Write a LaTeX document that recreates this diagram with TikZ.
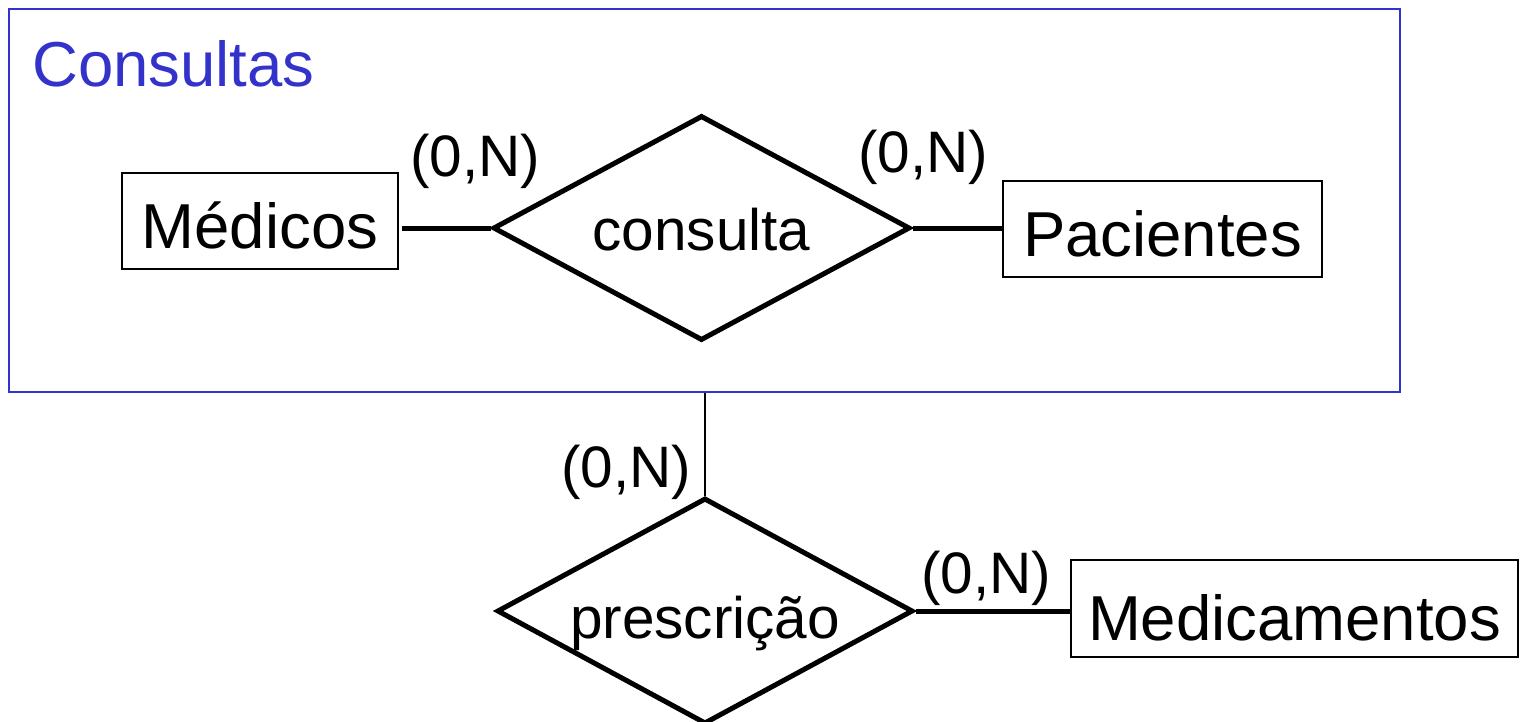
\documentclass[tikz,border=0pt]{standalone}
\usepackage{fontspec}
\setmainfont{Liberation Sans}
\usetikzlibrary{shapes.geometric}
\definecolor{framblue}{RGB}{51,51,204}
\tikzset{
  entity/.style={draw=black, line width=1.8pt, rectangle, inner sep=0pt,
    font=\fontsize{63.5}{70}\selectfont, text depth=0pt},
  relation/.style={draw=black, line width=5pt, diamond, inner sep=0pt,
    shape aspect=1.85, font=\fontsize{58.5}{64}\selectfont, text depth=0pt,
    minimum width=417pt, minimum height=225pt},
  card/.style={font=\fontsize{58.5}{64}\selectfont, anchor=base, inner sep=0pt},
  conn/.style={line width=5pt},
  thinconn/.style={line width=1.8pt},
}
\begin{document}
\begin{tikzpicture}[x=1pt,y=-1pt]
\useasboundingbox (0,0) rectangle (1520,721);
\fill[white] (0,0) rectangle (1520,721);
% aggregation frame
\node[draw=framblue, line width=2.2pt, rectangle, inner sep=0pt,
  minimum width=1391pt, minimum height=383pt] (frame) at (704.5,200.5) {};
\node[font=\fontsize{63.5}{70}\selectfont, text=framblue, anchor=base west, inner sep=0pt]
  (title) at (32,86) {Consultas};
% entities
\node[entity, minimum width=276pt, minimum height=96pt, text height=54pt] (med) at (260,221) {Médicos};
\node[entity, minimum width=319pt, minimum height=96pt, text height=54pt] (pac) at (1162.5,229) {Pacientes};
\node[entity, minimum width=447pt, minimum height=97pt, text height=64pt] (medi) at (1294.5,608.5) {Medicamentos};
% relationships
\node[relation, text height=44pt] (cons) at (701.5,228) {consulta};
\node[relation, text height=54pt, minimum width=416pt, minimum height=226pt] (presc) at (705,611) {prescrição};
% connectors
\draw[conn] ([xshift=3pt]cons.west -| med.east) -- (cons.west);
\draw[conn] (cons.east) -- (cons.east -| pac.west);
\draw[thinconn] (presc.north |- frame.south) -- (presc.north);
\draw[conn] (presc.east) -- (presc.east -| medi.west);
% cardinalities
\node[card] (c1) at (475,176) {(0,N)};
\node[card] (c2) at (923,172) {(0,N)};
\node[card] (c3) at (626,487) {(0,N)};
\node[card] (c4) at (986,593) {(0,N)};
\end{tikzpicture}
\end{document}
